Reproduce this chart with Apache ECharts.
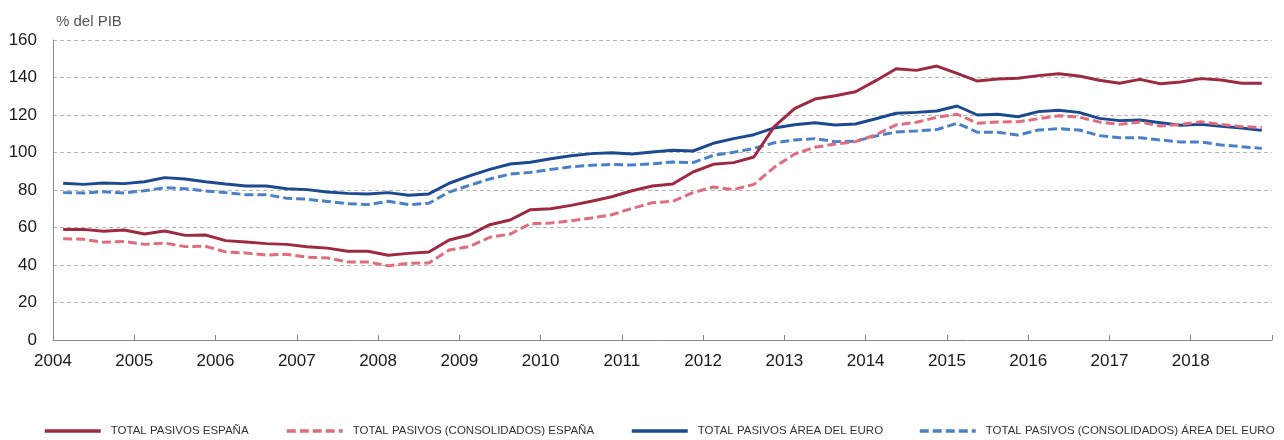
<!DOCTYPE html>
<html>
<head>
<meta charset="utf-8">
<script src="https://cdn.jsdelivr.net/npm/echarts@6/dist/echarts.min.js"></script>
<style>html,body{margin:0;padding:0;background:#fff}#c{width:1284px;height:440px}</style>
</head>
<body>
<div id="c"></div>
<script>
// Quarterly observations, 2004 T1 .. 2018 T4 (plotted at mid-quarter)
const quarters = [];
const startYear = 2004, endYear = 2018;
for (let y = startYear; y <= endYear; y++) for (let q = 1; q <= 4; q++) quarters.push(y + '-T' + q);

const yearTicks = [2004, 2005, 2006, 2007, 2008, 2009, 2010, 2011, 2012, 2013, 2014, 2015, 2016, 2017, 2018];

const seriesNames = [
  'TOTAL PASIVOS ESPAÑA',
  'TOTAL PASIVOS (CONSOLIDADOS) ESPAÑA',
  'TOTAL PASIVOS ÁREA DEL EURO',
  'TOTAL PASIVOS (CONSOLIDADOS) ÁREA DEL EURO'
];

const pasivosEspana = [
  59.0, 59.0, 58.0, 58.7, 56.5, 58.1, 55.8, 56.0, 53.0, 52.3, 51.4, 51.0,
  49.7, 49.0, 47.3, 47.3, 45.2, 46.2, 46.9, 53.3, 56.0, 61.5, 64.0, 69.5,
  70.0, 71.8, 74.0, 76.4, 79.6, 82.1, 83.2, 89.6, 93.7, 94.6, 97.6, 113.8,
  123.4, 128.5, 130.3, 132.4, 138.3, 144.7, 143.8, 146.1, 142.2, 138.1, 139.2, 139.6,
  141.0, 142.0, 140.8, 138.5, 136.9, 139.0, 136.7, 137.6, 139.4, 138.7, 136.9, 136.9
];
const consolidadosEspana = [
  54.0, 53.7, 52.1, 52.6, 51.0, 51.7, 49.8, 50.0, 47.0, 46.4, 45.3, 45.7,
  44.2, 43.8, 41.6, 41.6, 39.6, 40.9, 41.1, 48.0, 49.8, 54.8, 56.5, 62.0,
  62.4, 63.6, 65.1, 66.8, 70.2, 73.2, 74.0, 78.6, 81.6, 80.2, 83.0, 92.1,
  99.2, 102.8, 104.5, 105.8, 109.5, 114.7, 116.1, 118.8, 120.4, 115.6, 116.3, 116.4,
  118.0, 119.6, 118.9, 116.3, 115.0, 116.3, 114.1, 115.0, 116.4, 115.0, 113.8, 113.4
];
const pasivosEuro = [
  83.6, 83.0, 83.7, 83.4, 84.4, 86.6, 85.9, 84.4, 83.2, 82.1, 82.1, 80.7,
  80.2, 78.9, 78.2, 77.9, 78.6, 77.2, 77.9, 83.6, 87.5, 91.0, 93.9, 94.8,
  96.7, 98.3, 99.4, 99.9, 99.2, 100.3, 101.2, 100.8, 104.9, 107.4, 109.5, 113.1,
  114.8, 115.9, 114.7, 115.2, 118.0, 120.9, 121.4, 122.1, 124.8, 120.0, 120.4, 119.1,
  121.8, 122.5, 121.4, 118.2, 117.0, 117.3, 115.9, 114.5, 115.0, 114.0, 113.1, 111.8
];
const consolidadosEuro = [
  78.6, 78.4, 79.1, 78.4, 79.6, 81.2, 80.7, 79.5, 78.6, 77.5, 77.5, 75.6,
  75.1, 73.9, 72.7, 72.2, 74.0, 72.2, 72.9, 78.9, 82.5, 85.9, 88.5, 89.4,
  91.0, 92.4, 93.2, 93.6, 93.3, 94.0, 94.9, 94.6, 98.5, 100.1, 102.2, 105.2,
  106.7, 107.4, 105.8, 106.0, 108.8, 110.9, 111.5, 112.2, 115.6, 110.8, 110.8, 109.3,
  112.0, 112.7, 112.0, 109.0, 107.9, 107.9, 106.7, 105.6, 105.6, 104.0, 103.1, 102.2
];

const colors = ['#9d2a40', '#e06c7e', '#1b4a90', '#4a80c9'];

function quarterPos(label) {
  const [y, q] = label.split('-T');
  return Number(y) + (Number(q) - 0.5) / 4;
}
function pairs(vals) { return quarters.map((qq, i) => [quarterPos(qq), vals[i]]); }

const allValues = [pasivosEspana, consolidadosEspana, pasivosEuro, consolidadosEuro];
const dashed = [false, true, false, true];
const legendLeft = [43, 285, 630, 918];

const legendFont = {fontFamily: 'Liberation Sans Narrow, Liberation Sans, Arial, sans-serif', fontSize: 11.5, color: '#333', padding: [0, 0, 0, 5]};

const chart = echarts.init(document.getElementById('c'), null, {renderer: 'canvas'});
chart.setOption({
  animation: false,
  backgroundColor: '#fff',
  title: {
    text: '% del PIB', left: 51, top: 9,
    textStyle: {fontFamily: 'Liberation Sans, Arial, sans-serif', fontSize: 15, fontWeight: 'normal', color: '#555'}
  },
  grid: {left: 53, right: 12, top: 40, bottom: 100, containLabel: false},
  legend: seriesNames.map((n, k) => ({
    left: legendLeft[k], top: 425, padding: 0, itemWidth: 56, itemHeight: 12, itemGap: 0,
    itemStyle: {opacity: 0},
    lineStyle: {width: 3.5},
    textStyle: legendFont,
    data: [n]
  })),
  xAxis: {
    type: 'value', min: startYear, max: endYear + 1, interval: 1,
    axisLine: {show: true, lineStyle: {color: '#888', width: 1}},
    axisTick: {show: true, inside: true, length: 5, lineStyle: {color: '#888'}},
    axisLabel: {
      margin: 13, fontFamily: 'Liberation Sans, Arial, sans-serif', fontSize: 17, color: '#1a1a1a',
      formatter: v => yearTicks.indexOf(v) >= 0 ? String(v) : ''
    },
    splitLine: {show: false}
  },
  yAxis: {
    type: 'value', min: 0, max: 160, interval: 20,
    axisLine: {show: true, lineStyle: {color: '#888', width: 1}},
    axisTick: {show: false},
    axisLabel: {margin: 16, fontFamily: 'Liberation Sans, Arial, sans-serif', fontSize: 17, color: '#1a1a1a'},
    splitLine: {show: true, lineStyle: {color: '#b5b5b5', type: [4, 3], width: 1}}
  },
  series: seriesNames.map((name, k) => ({
    name: name, type: 'line', data: pairs(allValues[k]), symbol: 'none', smooth: false,
    z: [4, 3, 2, 1][k],
    itemStyle: {color: colors[k]},
    lineStyle: {color: colors[k], width: 3, type: dashed[k] ? [9, 4] : 'solid'}
  }))
});
</script>
</body>
</html>
